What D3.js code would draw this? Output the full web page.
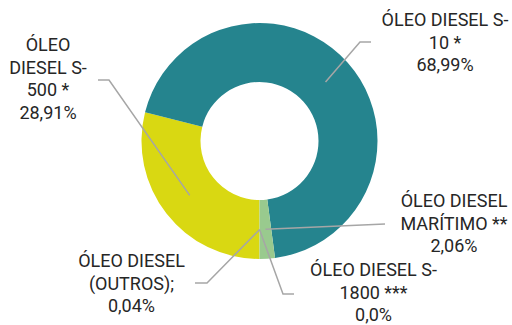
<!DOCTYPE html>
<html>
<head>
<meta charset="utf-8">
<script src="https://cdn.jsdelivr.net/npm/d3@7"></script>
<style>
  html, body { margin: 0; padding: 0; background: #ffffff; }
  svg { display: block; }
  text { font-family: Roboto, "Noto Sans", sans-serif; font-size: 18px; fill: #262626; }
</style>
</head>
<body>
<svg id="chart" width="512" height="325"></svg>
<script>
// Diesel sales share by product (clockwise from the bottom of the ring)
const categories = [
  "ÓLEO\nDIESEL S-\n500 *",
  "ÓLEO DIESEL S-\n10 *",
  "ÓLEO DIESEL\nMARÍTIMO **",
  "ÓLEO DIESEL\n(OUTROS);",
  "ÓLEO DIESEL S-\n1800 ***"
];
const shares = [28.91, 68.99, 2.06, 0.04, 0.0];
const decimals = [2, 2, 2, 2, 1];
const colors = ["#d9d812", "#25848e", "#99ca8e", "#99ca8e", "#99ca8e"];

// Label placement: elbow point of the leader, end of its short tail, text centre and first baseline
const labelLayout = [
  { elbow: [109, 80],  tail: [98, 80],   tx: 48,    ty: 51 },
  { elbow: [360, 42],  tail: [371, 42],  tx: 445,   ty: 26 },
  { elbow: [385, 224], tail: [385, 224], tx: 454,   ty: 207 },
  { elbow: [207, 283], tail: [195, 283], tx: 131.5, ty: 267 },
  { elbow: [283, 294], tail: [294, 294], tx: 373.5, ty: 276 }
];

const cx = 259.5, cy = 141, outerR = 118, innerR = 59;
const lineGap = 22.5;

const fmt = (v, d) => d3.format("." + d + "f")(v).replace(".", ",") + "%";

const svg = d3.select("#chart");
const g = svg.append("g").attr("transform", `translate(${cx},${cy})`);

const pie = d3.pie().sort(null).value(d => d.value)
  .startAngle(Math.PI).endAngle(3 * Math.PI);
const data = categories.map((c, i) => ({ name: c, value: shares[i], i }));
const arcs = pie(data);

const arc = d3.arc().innerRadius(innerR).outerRadius(outerR);
const midArc = d3.arc().innerRadius((innerR + outerR) / 2).outerRadius((innerR + outerR) / 2);

g.selectAll("path.slice")
  .data(arcs)
  .join("path")
  .attr("class", "slice")
  .attr("d", arc)
  .attr("fill", d => colors[d.data.i]);

// Leader lines from each slice centroid
const line = d3.line();
svg.selectAll("path.leader")
  .data(arcs)
  .join("path")
  .attr("class", "leader")
  .attr("fill", "none")
  .attr("stroke", "#a6a6a6")
  .attr("stroke-width", 1.5)
  .attr("d", d => {
    const c = midArc.centroid(d);
    const L = labelLayout[d.data.i];
    return line([[cx + c[0], cy + c[1]], L.elbow, L.tail]);
  });

// Labels: category name lines followed by the share
const labels = svg.selectAll("text.label")
  .data(arcs)
  .join("text")
  .attr("class", "label")
  .attr("text-anchor", "middle");

labels.each(function (d) {
  const L = labelLayout[d.data.i];
  const lines = d.data.name.split("\n").concat([fmt(shares[d.data.i], decimals[d.data.i])]);
  d3.select(this).selectAll("tspan")
    .data(lines)
    .join("tspan")
    .attr("x", L.tx)
    .attr("y", (t, k) => L.ty + k * lineGap)
    .text(t => t);
});
</script>
</body>
</html>
